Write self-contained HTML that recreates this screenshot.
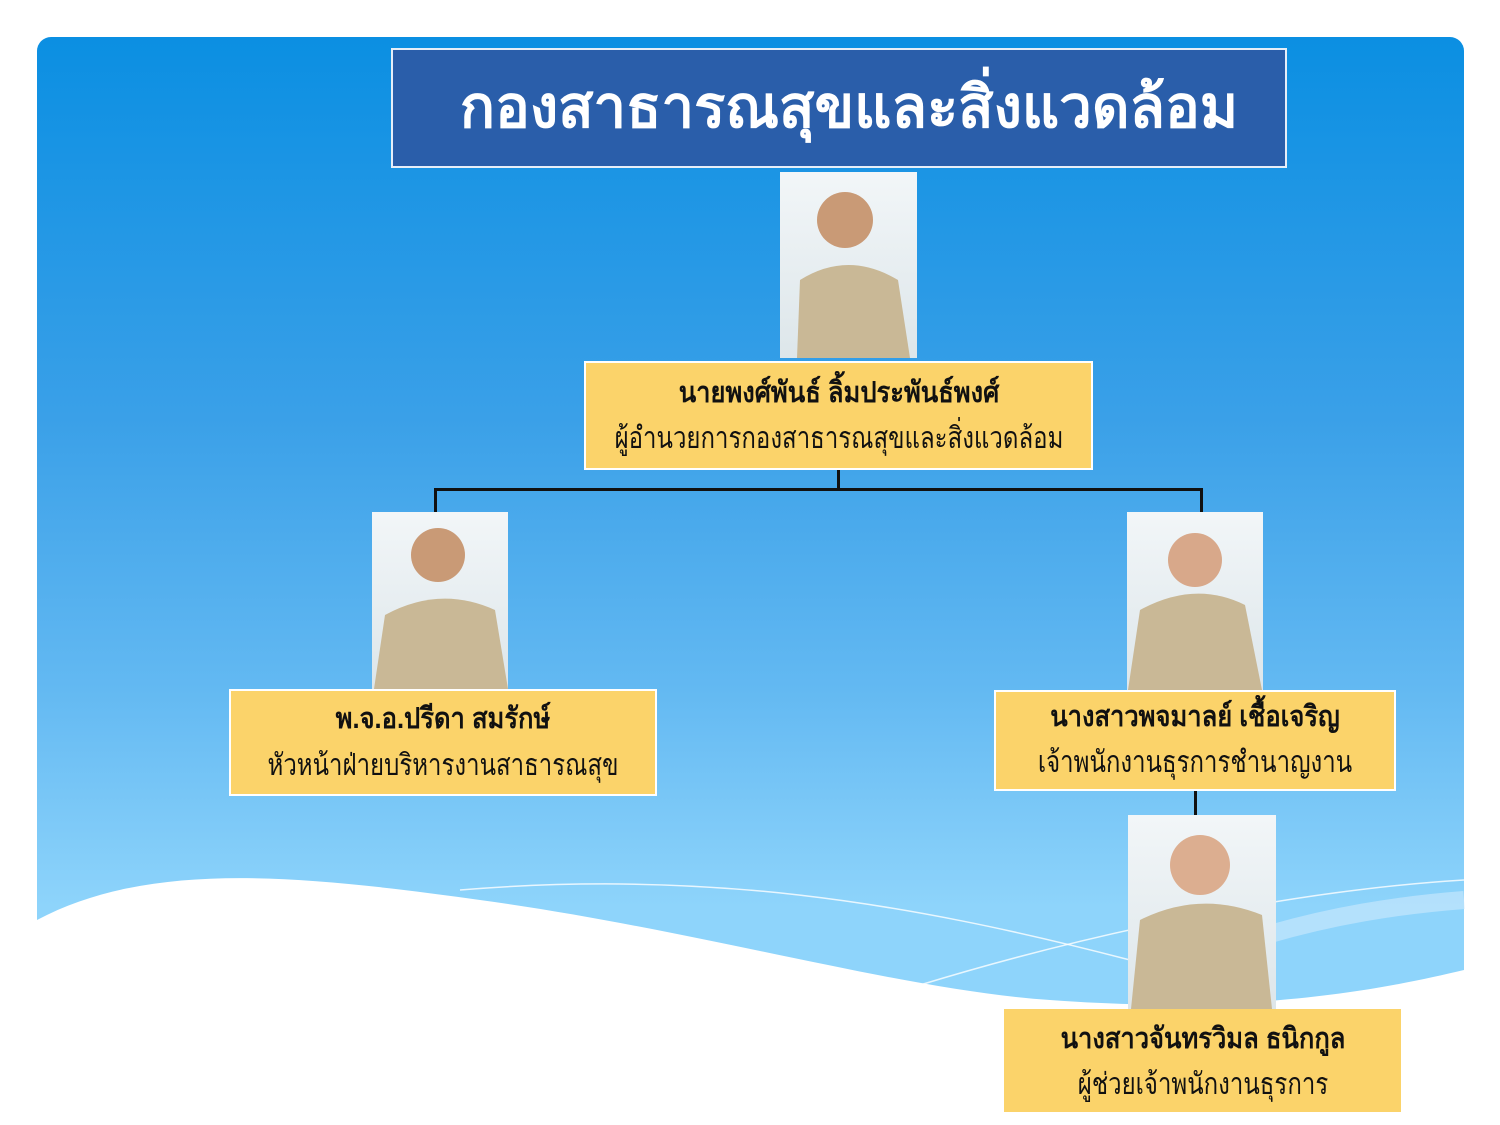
<!DOCTYPE html>
<html><head><meta charset="utf-8"><style>
*{margin:0;padding:0;box-sizing:border-box}
html,body{width:1500px;height:1125px;overflow:hidden}
body{background:#fff;position:relative;font-family:"Liberation Sans","DejaVu Sans",sans-serif}
.bg{position:absolute;left:37px;top:37px;width:1427px;height:1088px;border-radius:14px 14px 0 0;background:linear-gradient(#0b8fe2 0%,#3aa0e8 35%,#63b9f2 60%,#8ed4fb 80%)}
.abs{position:absolute}
.title{left:391px;top:48px;width:896px;height:120px;background:#2a5eaa;border:2px solid #e6eef8;color:#fff;font-size:58px;font-weight:bold;text-align:center;line-height:116px;padding-left:20px;white-space:nowrap}
.box{background:#fbd36a;border:2px solid #fff;color:#111;white-space:nowrap}
.box div{height:auto}
.box span{position:relative;left:50%;display:inline-block;width:max-content}
.box .n{font-weight:bold;font-size:29px;transform:translateX(-50%) scaleX(.88)}
.box .r{font-size:30px;transform:translateX(-50%) scaleX(.8)}
.ph{background:linear-gradient(#f2f6f8,#dde6ea)}
.ln{position:absolute;background:#111}
</style></head><body>
<div class="bg"></div>
<svg class="abs" style="left:0;top:0" width="1500" height="1125">
<path d="M37 920 C150 860 300 875 480 900 C700 930 900 990 1050 1000 C1250 1015 1380 990 1464 970 L1464 1125 L37 1125 Z" fill="#fff"/>
<path d="M460 890 C700 870 900 900 1130 960" stroke="#fff" stroke-width="1.5" fill="none" opacity=".8"/>
<path d="M920 985 C1100 930 1300 890 1464 880" stroke="#fff" stroke-width="1.5" fill="none" opacity=".8"/>
<path d="M1250 940 C1330 915 1400 905 1464 900" stroke="#cdeafd" stroke-width="18" fill="none" opacity=".6"/>
</svg>
<div class="abs title">กองสาธารณสุขและสิ่งแวดล้อม</div>

<div class="abs ph" style="left:780px;top:172px;width:137px;height:186px"></div>
<div class="abs ph" style="left:372px;top:512px;width:136px;height:177px"></div>
<div class="abs ph" style="left:1127px;top:512px;width:136px;height:178px"></div>
<div class="abs ph" style="left:1128px;top:815px;width:148px;height:194px"></div>
<svg class="abs" style="left:0;top:0" width="1500" height="1125">
<g fill="#c9b896"><path d="M797 358 L800 280 Q848 250 898 280 L910 358Z"/><circle cx="845" cy="220" r="28" fill="#c99a76"/></g>
<g fill="#c9b896"><path d="M374 689 L385 615 Q440 585 495 610 L508 689Z"/><circle cx="438" cy="555" r="27" fill="#c99a76"/></g>
<g fill="#c9b896"><path d="M1128 690 L1140 610 Q1195 580 1245 605 L1262 690Z"/><circle cx="1195" cy="560" r="27" fill="#d8a88a"/></g>
<g fill="#c9b896"><path d="M1131 1009 L1140 920 Q1200 890 1262 915 L1272 1009Z"/><circle cx="1200" cy="865" r="30" fill="#dcae90"/></g>
</svg>

<div class="ln" style="left:837px;top:469px;width:3px;height:22px"></div>
<div class="ln" style="left:434px;top:488px;width:769px;height:3px"></div>
<div class="ln" style="left:434px;top:488px;width:3px;height:24px"></div>
<div class="ln" style="left:1200px;top:488px;width:3px;height:24px"></div>
<div class="ln" style="left:1194px;top:790px;width:3px;height:25px"></div>

<div class="abs box" style="left:584px;top:361px;width:509px;height:109px;padding-top:8px"><div><span class="n" style="line-height:44px">นายพงศ์พันธ์ ลิ้มประพันธ์พงศ์</span></div><div><span class="r" style="line-height:48px">ผู้อำนวยการกองสาธารณสุขและสิ่งแวดล้อม</span></div></div>
<div class="abs box" style="left:229px;top:689px;width:428px;height:107px;padding-top:6px"><div><span class="n" style="line-height:44px">พ.จ.อ.ปรีดา  สมรักษ์</span></div><div><span class="r" style="line-height:50px">หัวหน้าฝ่ายบริหารงานสาธารณสุข</span></div></div>
<div class="abs box" style="left:994px;top:690px;width:402px;height:101px;padding-top:4px"><div><span class="n" style="line-height:42px">นางสาวพจมาลย์  เชื้อเจริญ</span></div><div><span class="r" style="line-height:50px">เจ้าพนักงานธุรการชำนาญงาน</span></div></div>
<div class="abs box" style="left:1004px;top:1009px;width:397px;height:103px;padding-top:6px;border-color:#fbd36a"><div><span class="n" style="line-height:44px">นางสาวจันทรวิมล  ธนิกกูล</span></div><div><span class="r" style="line-height:48px">ผู้ช่วยเจ้าพนักงานธุรการ</span></div></div>
</body></html>
